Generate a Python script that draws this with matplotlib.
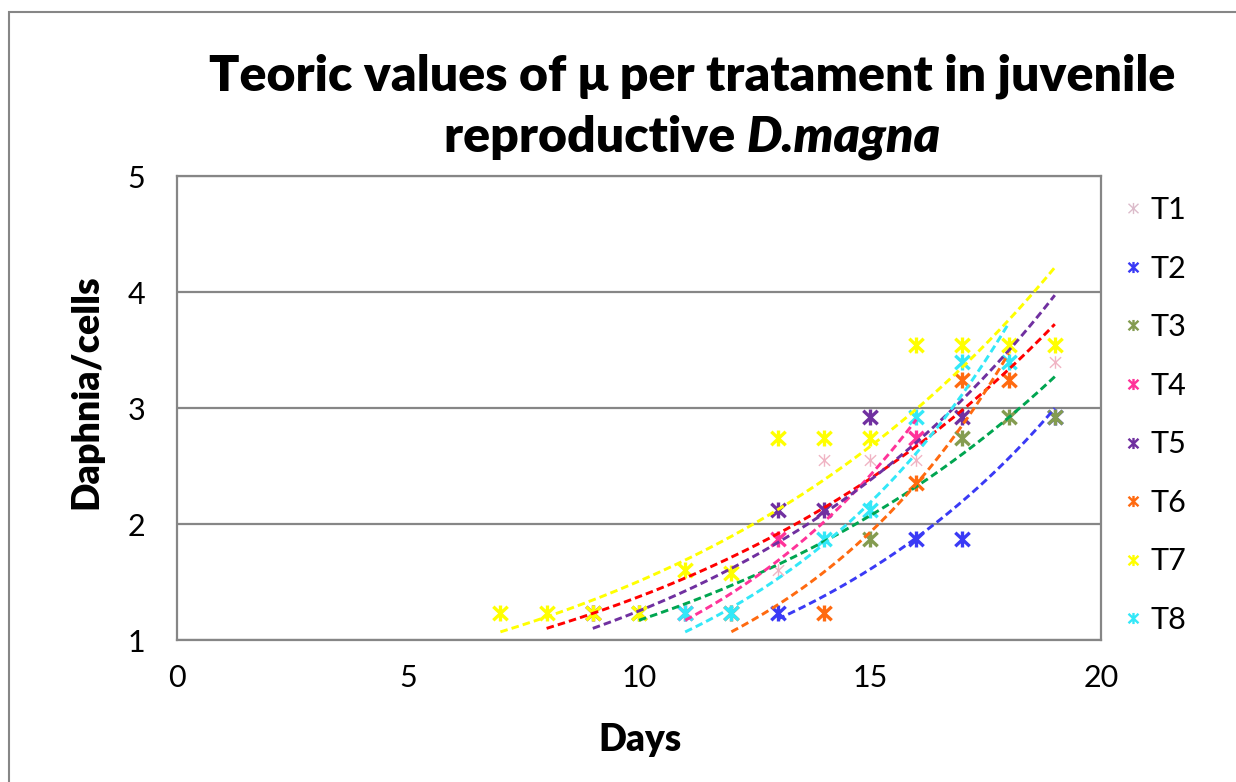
import numpy as np
import matplotlib
matplotlib.use("Agg")
import matplotlib.pyplot as plt
from matplotlib.path import Path
from matplotlib.lines import Line2D
from matplotlib.patches import Rectangle

plt.rcParams['font.family'] = ['Lato', 'DejaVu Sans']

# ---------------- data ----------------
series = ["T1", "T2", "T3", "T4", "T5", "T6", "T7", "T8"]

t1_x = [8, 9, 10, 13, 14, 15, 16, 19]
t1_y = [1.23, 1.23, 1.23, 1.60, 2.55, 2.55, 2.55, 3.40]
t2_x = [13, 16, 17, 19]
t2_y = [1.23, 1.87, 1.87, 2.92]
t3_x = [10, 15, 17, 18, 19]
t3_y = [1.23, 1.87, 2.74, 2.92, 2.92]
t4_x = [11, 13, 16]
t4_y = [1.23, 1.87, 2.74]
t5_x = [9, 13, 14, 15, 17]
t5_y = [1.23, 2.12, 2.12, 2.92, 2.92]
t6_x = [12, 14, 16, 17, 18]
t6_y = [1.23, 1.23, 2.35, 3.24, 3.24]
t7_x = [7, 8, 9, 10, 11, 12, 13, 14, 15, 16, 17, 18, 19]
t7_y = [1.23, 1.23, 1.23, 1.23, 1.60, 1.58, 2.74, 2.74, 2.74, 3.54, 3.54, 3.54, 3.54]
t8_x = [11, 12, 14, 15, 16, 17, 18]
t8_y = [1.23, 1.23, 1.87, 2.12, 2.92, 3.40, 3.40]

# exponential trendlines y = a * exp(b * x), drawn from x_start to x_end
trend_a = [0.4535, 0.1562, 0.3735, 0.1589, 0.3464, 0.1019, 0.481, 0.1503]
trend_b = [0.1108, 0.1555, 0.1142, 0.1815, 0.1284, 0.1960, 0.1142, 0.1784]
trend_start = [8, 13, 10, 11, 9, 12, 7, 11]
trend_end = [19, 19, 19, 16, 19, 18, 19, 18]

x_ticks = [0, 5, 10, 15, 20]
y_ticks = [1, 2, 3, 4, 5]

# ---------------- styles ----------------
marker_colors = ['#f0b4c4', '#3a3af5', '#849c50', '#ff3399', '#7030a0',
                 '#ff6a10', '#ffff00', '#33e8f8']
trend_colors = ['#ff0000', '#3a3af5', '#00a550', '#ff3399', '#7030a0',
                '#ff6a10', '#ffff00', '#33e8f8']
xs_all = [t1_x, t2_x, t3_x, t4_x, t5_x, t6_x, t7_x, t8_x]
ys_all = [t1_y, t2_y, t3_y, t4_y, t5_y, t6_y, t7_y, t8_y]

star = Path([(0, -1), (0, 1), (-0.9, -0.85), (0.9, 0.85), (-0.9, 0.85), (0.9, -0.85)],
            [Path.MOVETO, Path.LINETO] * 3)

W, H = 1236, 782
fig = plt.figure(figsize=(W / 100, H / 100), dpi=100)
fig.patch.set_facecolor('white')

left, right, top, bottom = 177, 1101, 176, 640
ax = fig.add_axes([left / W, 1 - bottom / H, (right - left) / W, (bottom - top) / H])

grid_c = '#868686'
for i, (xs, ys) in enumerate(zip(xs_all, ys_all)):
    if i == 0:
        ax.plot(xs, ys, linestyle='none', marker=star, markersize=9,
                markeredgewidth=1.0, color=marker_colors[i], zorder=3)
    else:
        ax.plot(xs, ys, linestyle='none', marker=star, markersize=11.5,
                markeredgewidth=2.4, color=marker_colors[i], zorder=3 + i * 0.01)

for i in range(len(series)):
    xx = np.linspace(trend_start[i], trend_end[i], 200)
    yy = trend_a[i] * np.exp(trend_b[i] * xx)
    ax.plot(xx, yy, color=trend_colors[i], linewidth=2.1,
            dashes=(2.6, 1.4), zorder=5)

ax.set_xlim(0, 20)
ax.set_ylim(1, 5)
ax.set_xticks(x_ticks)
ax.set_yticks(y_ticks)
ax.tick_params(axis='both', length=0, labelsize=22, colors='black')
ax.tick_params(axis='x', pad=17)
ax.tick_params(axis='y', pad=23)
for s in ax.spines.values():
    s.set_color(grid_c)
    s.set_linewidth(1.6)
ax.yaxis.grid(True, color=grid_c, linewidth=1.6)
ax.set_axisbelow(True)

# titles / labels
TFS = 36
fig.text(692 / W, 1 - 76 / H, "Teoric values of \u03bc per tratament in juvenile",
         ha='center', va='center', fontsize=TFS, fontweight='heavy')
fig.canvas.draw()
r = fig.canvas.get_renderer()
t_a = fig.text(0, 1 - 137 / H, "reproductive ", ha='left', va='center',
               fontsize=TFS, fontweight='heavy')
t_b = fig.text(0, 1 - 137 / H, "D.magna", ha='left', va='center',
               fontsize=TFS, fontweight='heavy', fontstyle='italic')
wa = t_a.get_window_extent(r).width
wb = t_b.get_window_extent(r).width
x0 = 692 - (wa + wb) / 2
t_a.set_x(x0 / W)
t_b.set_x((x0 + wa) / W)

fig.text(640 / W, 1 - 740 / H, "Days", ha='center', va='center',
         fontsize=26.5, fontweight='heavy')
fig.text(86 / W, 1 - 392 / H, "Daphnia/cells", ha='center', va='center',
         fontsize=27, fontweight='heavy', rotation=90)

# legend
handles = []
for i in range(len(series)):
    handles.append(Line2D([], [], linestyle='none', marker=star,
                          markersize=8, markeredgewidth=1.0 if i == 0 else 1.7,
                          color=marker_colors[i] if i else '#dcbccb'))
fig.legend(handles, series, loc='upper left', bbox_to_anchor=(1121 / W, 1 - 196 / H),
           frameon=False, fontsize=22, borderpad=0, borderaxespad=0,
           handlelength=0.8, handletextpad=0.15, labelspacing=1.0)

# outer chart border
fig.patches.append(Rectangle((9 / W, -0.05), 1.1, 1 - 12 / H + 0.05,
                             transform=fig.transFigure, fill=False,
                             edgecolor=grid_c, linewidth=1.5, zorder=0))

fig.savefig("out.png", dpi=100)
